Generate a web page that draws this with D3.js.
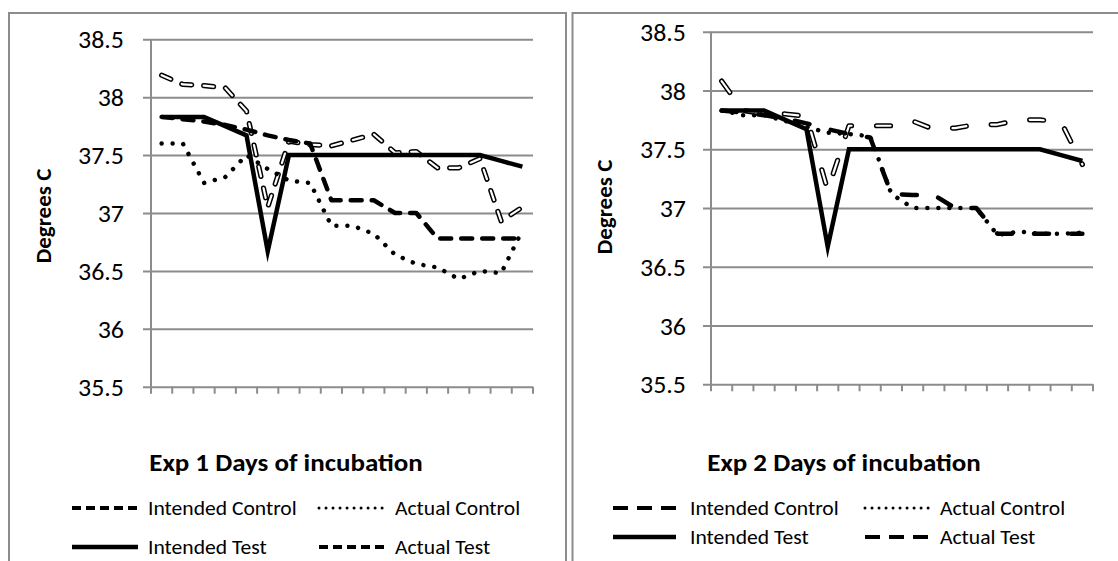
<!DOCTYPE html>
<html>
<head>
<meta charset="utf-8">
<script src="https://cdn.jsdelivr.net/npm/d3@7"></script>
<style>
  html, body { margin: 0; padding: 0; background: #fff; }
  svg { display: block; }
  text { font-family: Carlito, Calibri, Lato, "Open Sans", sans-serif; fill: #000; }
</style>
</head>
<body>
<svg id="chart" width="1118" height="561"></svg>
<script>
// Incubation days (categories along the x axis)
const days = [1, 2, 3, 4, 5, 6, 7, 8, 9, 10, 11, 12, 13, 14, 15, 16, 17, 18];

// Temperature axis ticks (degrees C)
const yTicks = [35.5, 36, 36.5, 37, 37.5, 38, 38.5];
const yTickLabels = ["35.5", "36", "36.5", "37", "37.5", "38", "38.5"];

const seriesNames = ["Intended Control", "Actual Control", "Intended Test", "Actual Test"];

// Experiment 1
const exp1IntendedControl = [38.19, 38.11, 38.10, 38.08, 37.88, 37.05, 37.62, 37.59, 37.58, 37.63, 37.68, 37.52, 37.53, 37.39, 37.39, 37.47, 36.93, 37.05];
const exp1ActualControl   = [37.60, 37.60, 37.26, 37.31, 37.50, 37.38, 37.28, 37.26, 36.89, 36.89, 36.82, 36.64, 36.56, 36.53, 36.43, 36.50, 36.48, 36.85];
const exp1IntendedTest    = [37.83, 37.83, 37.83, 37.75, 37.67, 36.67, 37.50, 37.50, 37.50, 37.50, 37.50, 37.50, 37.50, 37.50, 37.50, 37.50, 37.45, 37.40];
const exp1ActualTest      = [37.83, 37.81, 37.79, 37.76, 37.72, 37.67, 37.63, 37.60, 37.11, 37.11, 37.11, 37.00, 37.00, 36.78, 36.78, 36.78, 36.78, 36.78];

// Experiment 2
const exp2IntendedControl = [38.08, 37.83, 37.80, 37.80, 37.78, 37.15, 37.70, 37.70, 37.70, 37.74, 37.67, 37.68, 37.71, 37.71, 37.75, 37.75, 37.73, 37.37];
const exp2ActualControl   = [37.83, 37.79, 37.79, 37.74, 37.69, 37.64, 37.63, 37.61, 37.12, 37.00, 37.00, 37.00, 37.00, 36.77, 36.80, 36.78, 36.78, 36.79];
const exp2IntendedTest    = [37.83, 37.83, 37.83, 37.75, 37.67, 36.67, 37.50, 37.50, 37.50, 37.50, 37.50, 37.50, 37.50, 37.50, 37.50, 37.50, 37.45, 37.40];
const exp2ActualTest      = [37.83, 37.81, 37.79, 37.76, 37.72, 37.67, 37.63, 37.60, 37.12, 37.11, 37.11, 37.00, 37.00, 36.78, 36.78, 36.78, 36.78, 36.78];

const GRID = "#8c8c8c";
const SX = 1.08; // slight horizontal widening of the labels
const svg = d3.select("#chart");

const panels = [
  {
    title: "Exp 1 Days of incubation",
    series: [exp1IntendedControl, exp1ActualControl, exp1IntendedTest, exp1ActualTest],
    frame: { x0: 9, y0: 13, x1: 566 },
    plot: { x0: 151, x1: 533, y0: 39.3, y1: 386.7 },
    yLabel: { x: 43, y: 216 }, labelGap: 27, titleX: 286, titleY: 471,
    dash: { control: "10,12", test: "11,10", legend: "9,5" },
    legend: { cols: [[72, 138, 148], [319, 387, 395]], rows: [508, 547] }
  },
  {
    title: "Exp 2 Days of incubation",
    series: [exp2IntendedControl, exp2ActualControl, exp2IntendedTest, exp2ActualTest],
    frame: { x0: 572.5, y0: 13, x1: 1120 },
    plot: { x0: 711, x1: 1093, y0: 31.7, y1: 384.3 },
    yLabel: { x: 604, y: 207 }, labelGap: 25, titleX: 844, titleY: 471,
    dash: { control: "14,25", test: "15,22", legend: "15,9" },
    legend: { cols: [[613, 676, 690], [865, 931, 940]], rows: [508, 537] }
  }
];

panels.forEach(p => {
  const g = svg.append("g");

  // panel frame (left, top, right edges; bottom runs off the page)
  g.append("path")
    .attr("d", `M${p.frame.x0},575 V${p.frame.y0} H${p.frame.x1} V575`)
    .attr("fill", "none").attr("stroke", GRID).attr("stroke-width", 2);

  const x = d3.scaleBand().domain(days).range([p.plot.x0, p.plot.x1]);
  const y = d3.scaleLinear().domain([35.5, 38.5]).range([p.plot.y1, p.plot.y0]);

  // horizontal gridlines with short outer ticks
  const yAxis = d3.axisLeft(y).tickValues(yTicks)
    .tickFormat((d, i) => yTickLabels[i])
    .tickSizeInner(-(p.plot.x1 - p.plot.x0)).tickSizeOuter(0).tickPadding(0);
  const ya = g.append("g").attr("transform", `translate(${p.plot.x0},0)`).call(yAxis);
  ya.select(".domain").remove();
  ya.selectAll(".tick line")
    .attr("x1", -8).attr("x2", p.plot.x1 - p.plot.x0)
    .attr("stroke", GRID).attr("stroke-width", 2);
  ya.selectAll(".tick text")
    .attr("x", 0).attr("dy", "0.36em")
    .attr("transform", `translate(${-p.labelGap},0) scale(${SX},1)`)
    .style("font-size", "24px").style("font-family", "Carlito, Calibri, Lato, sans-serif")
    .attr("fill", "#000");

  // vertical axis line
  g.append("line")
    .attr("x1", p.plot.x0).attr("x2", p.plot.x0)
    .attr("y1", p.plot.y0).attr("y2", p.plot.y1)
    .attr("stroke", GRID).attr("stroke-width", 2);

  // category boundary ticks below the axis
  const bounds = days.map(d => x(d)).concat([x(days[days.length - 1]) + x.bandwidth()]);
  g.selectAll("line.xt").data(bounds).enter().append("line")
    .attr("x1", d => d).attr("x2", d => d)
    .attr("y1", p.plot.y1).attr("y2", p.plot.y1 + 7)
    .attr("stroke", GRID).attr("stroke-width", 2);

  const line = d3.line()
    .x((d, i) => x(days[i]) + x.bandwidth() / 2)
    .y(d => y(d));

  const [ic, ac, it, at] = p.series;

  // Intended Control: hollow dashes (black outline, white core)
  g.append("path").attr("d", line(ic)).attr("fill", "none")
    .attr("stroke", "#000").attr("stroke-width", 5.2)
    .attr("stroke-linecap", "round").attr("stroke-linejoin", "round")
    .attr("stroke-dasharray", p.dash.control);
  g.append("path").attr("d", line(ic)).attr("fill", "none")
    .attr("stroke", "#fff").attr("stroke-width", 2.2)
    .attr("stroke-linecap", "round").attr("stroke-linejoin", "round")
    .attr("stroke-dasharray", p.dash.control);

  // Actual Control: round dots
  g.append("path").attr("d", line(ac)).attr("fill", "none")
    .attr("stroke", "#000").attr("stroke-width", 4.5)
    .attr("stroke-linecap", "round").attr("stroke-dasharray", "0.01,11");

  // Intended Test: solid
  g.append("path").attr("d", line(it)).attr("fill", "none")
    .attr("stroke", "#000").attr("stroke-width", 4.5)
    .attr("stroke-linejoin", "miter").attr("stroke-miterlimit", 10);

  // Actual Test: heavy dashes
  g.append("path").attr("d", line(at)).attr("fill", "none")
    .attr("stroke", "#000").attr("stroke-width", 4.5)
    .attr("stroke-linecap", "round").attr("stroke-linejoin", "round")
    .attr("stroke-dasharray", p.dash.test);

  // axis titles
  g.append("text")
    .attr("transform", `translate(${p.yLabel.x},${p.yLabel.y}) rotate(-90)`)
    .attr("text-anchor", "middle").attr("dy", "0.35em")
    .style("font-size", "23px").style("font-weight", "bold")
    .text("Degrees C");
  g.append("text")
    .attr("transform", `translate(${p.titleX},${p.titleY}) scale(${SX},1)`)
    .attr("text-anchor", "middle")
    .style("font-size", "25px").style("font-weight", "bold")
    .text(p.title);

  // legend
  const styles = [
    { dash: p.dash.legend, w: 4, cap: "butt" },
    { dash: "0.01,7", w: 3, cap: "round" },
    { dash: null, w: 4.5, cap: "butt" },
    { dash: p.dash.legend, w: 4, cap: "butt" }
  ];
  seriesNames.forEach((name, i) => {
    const col = p.legend.cols[i % 2];
    const row = p.legend.rows[Math.floor(i / 2)];
    const s = styles[i];
    const ln = g.append("line")
      .attr("x1", col[0]).attr("x2", col[1])
      .attr("y1", row).attr("y2", row)
      .attr("stroke", "#000").attr("stroke-width", s.w)
      .attr("stroke-linecap", s.cap);
    if (s.dash) ln.attr("stroke-dasharray", s.dash);
    g.append("text")
      .attr("transform", `translate(${col[2]},${row}) scale(${SX},1)`)
      .attr("dy", "0.35em")
      .style("font-size", "20px")
      .text(name);
  });
});
</script>
</body>
</html>
